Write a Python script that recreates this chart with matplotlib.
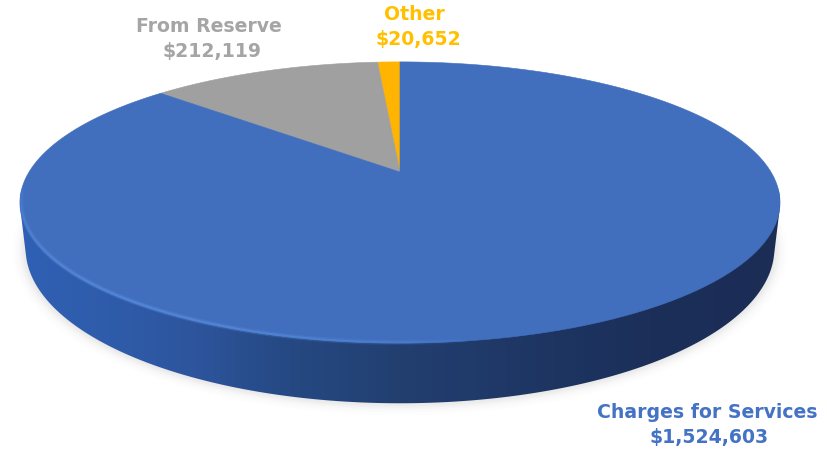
import numpy as np
import matplotlib
matplotlib.use('Agg')
import matplotlib.pyplot as plt
from matplotlib.patches import Polygon
from matplotlib.collections import LineCollection
from matplotlib.colors import LinearSegmentedColormap, to_rgba

labels = ['Other', 'From Reserve', 'Charges for Services']
values = [20652, 212119, 1524603]
colors = ['#ffb401', '#a0a0a0', '#416fbe']
text_colors = ['#ffc000', '#a5a5a5', '#4472c4']

W, H = 828, 449
APEX_X, APEX_Y = 400, 172
TILT = 0.217
SCALE_U = 371
SCALE_V = 134


def project(u, v, sx=1.0, sy=1.0, drop=0.0):
    # perspective view of the unit disc, returned in pixel coordinates
    d = 1 + TILT * v
    x = APEX_X + sx * SCALE_U * u / d
    y = APEX_Y - sy * SCALE_V * v / d + drop
    return x, y


def hull(points):
    # monotone chain, joins top and bottom discs into one silhouette
    pts = sorted(map(tuple, points))

    def half(seq):
        out = []
        for p in seq:
            while len(out) > 1 and ((out[-1][0] - out[-2][0]) * (p[1] - out[-2][1])
                                    - (out[-1][1] - out[-2][1]) * (p[0] - out[-2][0])) <= 0:
                out.pop()
            out.append(p)
        return out[:-1]
    return np.array(half(pts) + half(pts[::-1]))


fig = plt.figure(figsize=(W / 100, H / 100), dpi=100)
ax = fig.add_axes([0, 0, 1, 1])
ax.set_xlim(0, W)
ax.set_ylim(H, 0)
ax.axis('off')

t = np.linspace(0, 2 * np.pi, 721)
top_x, top_y = project(np.sin(t), np.cos(t))
base_x, base_y = project(np.sin(t), np.cos(t), sx=0.985, sy=1.1, drop=43)

# soft shadow under the disc
for grow, alpha in zip([13, 10, 7, 5, 3, 1], [0.012, 0.016, 0.022, 0.03, 0.035, 0.04]):
    sx_, sy_ = project(np.sin(t), np.cos(t), sx=0.985 + grow / 380, sy=1.1 + grow / 190, drop=43)
    ax.add_patch(Polygon(np.c_[sx_, sy_], closed=True, fc='#707070', ec='none', alpha=alpha, zorder=1))

# side wall, dark towards the right
wall_cmap = LinearSegmentedColormap.from_list('wall', [
    (0.0, '#2f60b4'), (0.1, '#2f5dac'), (0.24, '#2d549b'), (0.34, '#264a85'),
    (0.5, '#223f70'), (0.66, '#1f3765'), (0.83, '#1b2f59'), (1.0, '#1b2d55')])
wall = Polygon(hull(np.r_[np.c_[top_x, top_y], np.c_[base_x, base_y]]), closed=True,
               fc='none', ec='none')
ax.add_patch(wall)
grad = ax.imshow(np.linspace(0, 1, 256).reshape(1, -1), cmap=wall_cmap, aspect='auto',
                 extent=[20, 780, 410, 190], zorder=2)
grad.set_clip_path(wall)
ax.set_xlim(0, W)
ax.set_ylim(H, 0)

# slices, counter-clockwise from twelve o'clock
total = sum(values)
start = 0.0
for val, col in zip(values, colors):
    sweep = 2 * np.pi * val / total
    a = -np.linspace(start, start + sweep, 200)
    x, y = project(np.sin(a), np.cos(a))
    pts = np.r_[[[APEX_X, APEX_Y]], np.c_[x, y]]
    ax.add_patch(Polygon(pts, closed=True, fc=col, ec=col, lw=0.4, zorder=3))
    start += sweep

# light bevel along the front left rim, fading out at both ends
a = np.linspace(np.pi * 0.95, np.pi * 1.47, 300)
rx, ry = project(np.sin(a), np.cos(a), sx=0.996, sy=0.996)
pts = np.c_[rx, ry].reshape(-1, 1, 2)
segs = np.concatenate([pts[:-1], pts[1:]], axis=1)
fade = np.sin(np.linspace(0, np.pi, len(segs))) ** 0.6
for lw, k in [(3.5, 0.3), (1.6, 0.6)]:
    rim_colors = [to_rgba('#5b8ee0', k * f) for f in fade]
    ax.add_collection(LineCollection(segs, colors=rim_colors, lw=lw, zorder=4))

# data labels
font = dict(family='DejaVu Sans', fontweight='bold', ha='center', va='center', fontsize=13.6)
ax.text(209, 26, labels[1], color=text_colors[1], **font)
ax.text(212, 52, f'${values[1]:,}', color=text_colors[1], **font)
ax.text(414, 15, labels[0], color=text_colors[0], **font)
ax.text(418, 40, f'${values[0]:,}', color=text_colors[0], **font)
ax.text(707, 413, labels[2], color=text_colors[2], **font)
ax.text(709, 438, f'${values[2]:,}', color=text_colors[2], **font)

fig.savefig('out.png', dpi=100)
